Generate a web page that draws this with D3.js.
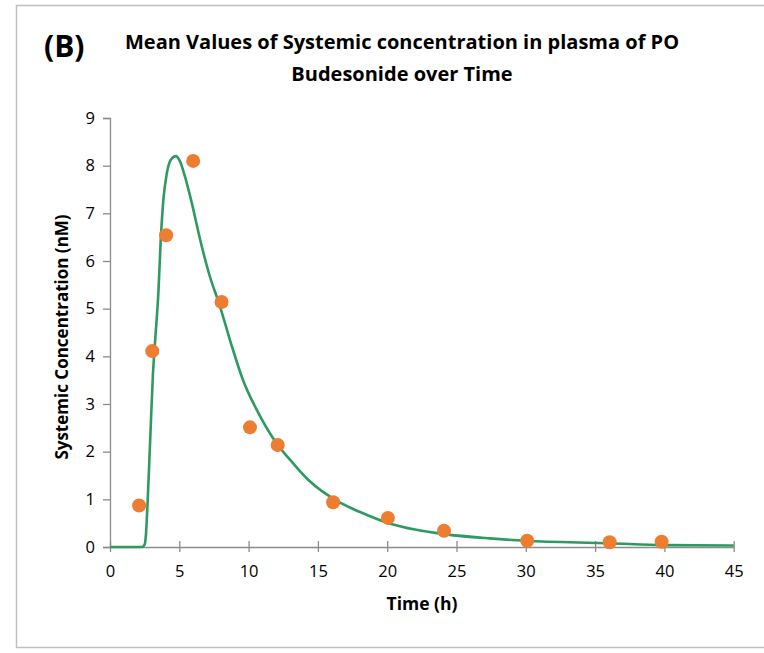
<!DOCTYPE html>
<html>
<head>
<meta charset="utf-8">
<script src="https://cdn.jsdelivr.net/npm/d3@7"></script>
<style>
  body { margin: 0; background: #fff; }
  text { font-family: "Open Sans", "Noto Sans", sans-serif; }
</style>
</head>
<body>
<div id="chart"></div>
<script>
const svgWidth = 764;
const svgHeight = 653;

// observed mean concentrations (orange dots)
const obsTime = [2.1, 3.05, 4.05, 6.0, 8.05, 10.1, 12.1, 16.1, 20.05, 24.1, 30.1, 36.05, 39.8];
const obsConc = [0.87, 4.11, 6.54, 8.10, 5.14, 2.51, 2.14, 0.94, 0.61, 0.34, 0.13, 0.10, 0.11];

// model curve (green line)
const fitTime = [0, 2.3, 2.5, 2.6, 2.7, 2.9, 3.1, 3.25, 3.5, 3.66, 3.85, 4.1, 4.4, 4.75, 5.05, 5.4, 5.9, 6.5, 7.2, 7.9, 8.7, 9.6, 10.6, 12.0, 13.2, 14.3, 16.6, 18.0, 20.0, 22.1, 24.1, 27.4, 30.0, 36.0, 40.0, 45];
const fitConc = [0, 0, 0.05, 0.29, 0.85, 2.25, 3.64, 4.3, 5.39, 6.44, 7.28, 7.84, 8.13, 8.2, 8.09, 7.78, 7.22, 6.45, 5.68, 5.08, 4.3, 3.5, 2.87, 2.18, 1.76, 1.41, 0.93, 0.74, 0.51, 0.36, 0.27, 0.18, 0.13, 0.08, 0.04, 0.03];

const xTicks = [0, 5, 10, 15, 20, 25, 30, 35, 40, 45];
const yTicks = [0, 1, 2, 3, 4, 5, 6, 7, 8, 9];

const margin = { top: 118, right: 30, bottom: 106, left: 110 };
const width = 733.7 - margin.left;
const height = 547 - margin.top;

const axisColor = "#8c8c8c";

const svg = d3.select("#chart").append("svg")
    .attr("width", svgWidth)
    .attr("height", svgHeight);

// outer frame (its right edge runs past the picture)
svg.append("rect")
    .attr("x", 16.5).attr("y", 5.5)
    .attr("width", 800).attr("height", 642)
    .attr("fill", "none")
    .attr("stroke", "#bfbfbf")
    .attr("stroke-width", 1.5);

const xScale = d3.scaleLinear().domain([0, 45]).range([0, width]);
const yScale = d3.scaleLinear().domain([0, 9]).range([height, 0]);

const chart = svg.append("g")
    .attr("transform", `translate(${margin.left}, ${margin.top})`);

// y axis
const axisY = chart.append("g")
    .call(d3.axisLeft(yScale).tickValues(yTicks).tickSize(7).tickPadding(8).tickFormat(d3.format("d")));
axisY.select(".domain").attr("stroke", axisColor).attr("stroke-width", 1.3);
axisY.selectAll(".tick line").attr("stroke", axisColor).attr("stroke-width", 1.3);
axisY.selectAll(".tick text").style("font-size", "16.5px").attr("fill", "#000");

// x axis, ticks cross the line
const axisX = chart.append("g")
    .attr("transform", `translate(0, ${height})`)
    .call(d3.axisBottom(xScale).tickValues(xTicks).tickSizeInner(5).tickSizeOuter(0).tickPadding(13.5).tickFormat(d3.format("d")));
axisX.select(".domain").attr("stroke", axisColor).attr("stroke-width", 1.3);
axisX.selectAll(".tick line").attr("y1", -6).attr("stroke", axisColor).attr("stroke-width", 1.3);
axisX.selectAll(".tick text").style("font-size", "16.5px").attr("fill", "#000");

// green model line
const line = d3.line()
    .x((d, i) => xScale(fitTime[i]))
    .y(d => yScale(d))
    .curve(d3.curveMonotoneX);

chart.append("path")
    .datum(fitConc)
    .attr("d", line)
    .attr("fill", "none")
    .attr("stroke", "#2e9a62")
    .attr("stroke-width", 2.6);

// orange observed points
chart.selectAll("circle")
    .data(obsConc)
    .enter()
    .append("circle")
    .attr("cx", (d, i) => xScale(obsTime[i]))
    .attr("cy", d => yScale(d))
    .attr("r", 7)
    .attr("fill", "#ed7d31");

// titles
svg.append("text")
    .attr("x", 44).attr("y", 57)
    .attr("font-size", 30).attr("font-weight", "bold")
    .text("(B)");

svg.append("text")
    .attr("x", 402).attr("y", 49)
    .attr("text-anchor", "middle")
    .attr("font-size", 20).attr("font-weight", "bold")
    .text("Mean Values of Systemic concentration in plasma of PO");

svg.append("text")
    .attr("x", 402).attr("y", 81)
    .attr("text-anchor", "middle")
    .attr("font-size", 20).attr("font-weight", "bold")
    .text("Budesonide over Time");

svg.append("text")
    .attr("x", 422).attr("y", 610)
    .attr("text-anchor", "middle")
    .attr("font-size", 17.5).attr("font-weight", "bold")
    .text("Time (h)");

svg.append("text")
    .attr("transform", "translate(68, 337) rotate(-90)")
    .attr("text-anchor", "middle")
    .attr("font-size", 17).attr("font-weight", "bold")
    .text("Systemic Concentration (nM)");
</script>
</body>
</html>
